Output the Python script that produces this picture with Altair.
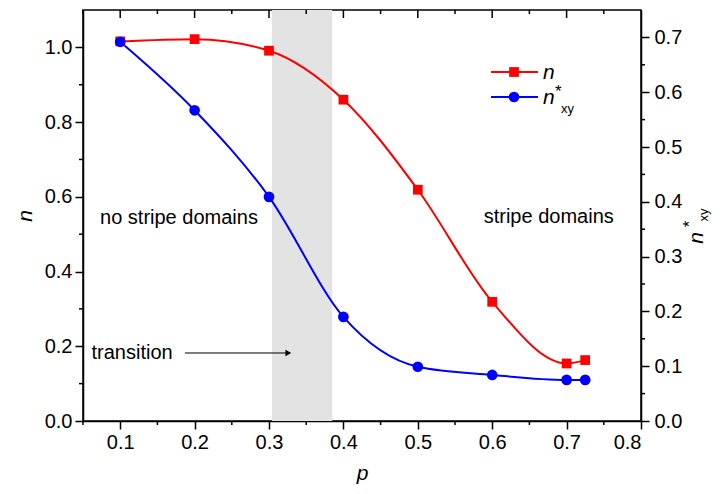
import altair as alt
import pandas as pd

# ---- data ----
p_vals = [0.1, 0.2, 0.3, 0.4, 0.5, 0.6, 0.7, 0.725]
n_vals = [1.016, 1.022, 0.991, 0.86, 0.619, 0.319, 0.154, 0.163]
nxy_vals = [0.692, 0.567, 0.409, 0.190, 0.099, 0.084, 0.075, 0.075]

band = [0.304, 0.385]
x_major = [0.1, 0.2, 0.3, 0.4, 0.5, 0.6, 0.7, 0.8]
x_minor = [0.05, 0.15, 0.25, 0.35, 0.45, 0.55, 0.65, 0.75]
yl_major = [0.0, 0.2, 0.4, 0.6, 0.8, 1.0]
yl_minor = [0.1, 0.3, 0.5, 0.7, 0.9]
yr_major = [0.0, 0.1, 0.2, 0.3, 0.4, 0.5, 0.6, 0.7]
yr_minor = [0.05, 0.15, 0.25, 0.35, 0.45, 0.55, 0.65]

notes_text = ["no stripe domains", "stripe domains", "transition"]
notes_p = [0.179, 0.676, 0.116]
notes_n = [0.544, 0.546, 0.182]
arrow_p = [0.187, 0.326]
arrow_n = 0.182

W, H = 558, 411
FONT = "Liberation Sans"

X = alt.Scale(domain=[0.05, 0.8], nice=False, zero=False)
YL = alt.Scale(domain=[0, 1.1], nice=False)
YR = alt.Scale(domain=[0, 0.75], nice=False)

df = pd.DataFrame({"p": p_vals, "n": n_vals, "nxy": nxy_vals})
one = pd.DataFrame({"a": [0]})

XAXIS = alt.Axis(values=x_major, format=".1f", title="p", titleFontStyle="italic",
                 titleFontSize=21, titleFontWeight="normal", titlePadding=10,
                 labelFontSize=20, tickSize=8, tickWidth=1.5, tickColor="black",
                 domainColor="black", domainWidth=1.5, labelColor="black",
                 titleColor="black", grid=False, labelPadding=3, orient="bottom")


def xenc(field):
    return alt.X(field, scale=X, axis=XAXIS)


band_layer = alt.Chart(pd.DataFrame({"x0": [band[0]], "x1": [band[1]]})).mark_rect(
    color="#e3e3e3"
).encode(
    x=xenc("x0:Q"), x2="x1:Q",
    y=alt.value(0), y2=alt.value(H),
)

red_line = alt.Chart(df).mark_line(color="#ff0000", strokeWidth=2, interpolate="monotone").encode(
    x=xenc("p:Q"),
    y=alt.Y("n:Q", scale=YL, axis=alt.Axis(
        values=yl_major, format=".1f", title="n", titleFontStyle="italic",
        titleFontSize=21, titleFontWeight="normal", titlePadding=9,
        labelFontSize=20, tickSize=8, tickWidth=1.5, tickColor="black",
        domainColor="black", domainWidth=1.5, labelColor="black",
        titleColor="black", grid=False, orient="left", labelPadding=3)),
)
red_pts = alt.Chart(df).mark_point(shape="square", filled=True, size=95, color="#ff0000", opacity=1).encode(
    x=xenc("p:Q"),
    y=alt.Y("n:Q", scale=YL, axis=None),
)
blue_line = alt.Chart(df).mark_line(color="#0000ff", strokeWidth=2, interpolate="monotone").encode(
    x=xenc("p:Q"),
    y=alt.Y("nxy:Q", scale=YR, axis=alt.Axis(
        values=yr_major, format=".1f", title=None,
        labelFontSize=20, tickSize=8, tickWidth=1.5, tickColor="black",
        domainColor="black", domainWidth=1.5, labelColor="black",
        grid=False, orient="right", labelPadding=5)),
)
blue_pts = alt.Chart(df).mark_point(shape="circle", filled=True, size=115, color="#0000ff", opacity=1).encode(
    x=xenc("p:Q"),
    y=alt.Y("nxy:Q", scale=YR, axis=None),
)


def vrule(vals, y0, y1):
    return alt.Chart(pd.DataFrame({"v": vals})).mark_rule(color="black", strokeWidth=1.5).encode(
        x=xenc("v:Q"), y=alt.value(y0), y2=alt.value(y1))


def hrule(vals, scale, x0, x1):
    return alt.Chart(pd.DataFrame({"v": vals})).mark_rule(color="black", strokeWidth=1.5).encode(
        y=alt.Y("v:Q", scale=scale, axis=None), x=alt.value(x0), x2=alt.value(x1))


ticks = [
    vrule(x_minor, H, H + 4),
    vrule(x_major[:-1], 0, 8),
    vrule(x_minor, 0, 4),
    hrule(yl_minor, YL, -4, 0),
    hrule(yr_minor, YR, W, W + 4),
]

notes = alt.Chart(pd.DataFrame({"t": notes_text, "p": notes_p, "n": notes_n})).mark_text(
    fontSize=20, font=FONT, color="black", align="center", baseline="middle"
).encode(
    x=xenc("p:Q"), y=alt.Y("n:Q", scale=YL, axis=None), text="t:N"
)
arrow = alt.Chart(pd.DataFrame({"p0": [arrow_p[0]], "p1": [arrow_p[1]], "n": [arrow_n]})).mark_rule(
    color="black", strokeWidth=1
).encode(
    x=xenc("p0:Q"), x2="p1:Q", y=alt.Y("n:Q", scale=YL, axis=None)
)
arrow_head = alt.Chart(pd.DataFrame({"p": [arrow_p[1]], "n": [arrow_n]})).mark_point(
    shape="triangle-right", filled=True, size=45, color="black", opacity=1
).encode(
    x=xenc("p:Q"), y=alt.Y("n:Q", scale=YL, axis=None)
)


def lbl(text, x, y, size=21, italic=False, angle=0, align="left", baseline="middle"):
    kw = dict(text=text, fontSize=size, font=FONT, color="black", align=align, baseline=baseline)
    if italic:
        kw["fontStyle"] = "italic"
    if angle:
        kw["angle"] = angle
    return alt.Chart(one).mark_text(**kw).encode(x=alt.value(x), y=alt.value(y))


# legend (decoration)
leg_red_line = alt.Chart(one).mark_rule(color="#ff0000", strokeWidth=2).encode(
    x=alt.value(408), x2=alt.value(455), y=alt.value(62))
leg_red_pt = alt.Chart(one).mark_point(shape="square", filled=True, size=95, color="#ff0000", opacity=1).encode(
    x=alt.value(431), y=alt.value(62))
leg_blue_line = alt.Chart(one).mark_rule(color="#0000ff", strokeWidth=2).encode(
    x=alt.value(408), x2=alt.value(455), y=alt.value(87))
leg_blue_pt = alt.Chart(one).mark_point(shape="circle", filled=True, size=115, color="#0000ff", opacity=1).encode(
    x=alt.value(431), y=alt.value(87))

legend = [
    leg_red_line, leg_red_pt, leg_blue_line, leg_blue_pt,
    lbl("n", 460, 63, 21, True),
    lbl("n", 460, 88, 21, True),
    lbl("*", 472, 82, 17, False),
    lbl("xy", 478, 99, 13, False),
]

# right axis title n*xy (rotated)
rtitle = [
    lbl("n", 614, 228, 21, True, 270, "center"),
    lbl("*", 607, 214, 17, False, 270, "center"),
    lbl("xy", 621, 205, 13, False, 270, "center"),
]

chart = alt.layer(
    band_layer, red_line, blue_line, red_pts, blue_pts, *ticks,
    notes, arrow, arrow_head, *legend, *rtitle
).resolve_scale(y="independent").properties(
    width=W, height=H,
    autosize=alt.AutoSizeParams(type="none"),
    padding={"left": 75, "top": 2, "right": 73, "bottom": 65},
).configure(font=FONT).configure_view(stroke="black", strokeWidth=1.5)

chart.save("out.html", embed_options={"renderer": "svg", "actions": False})
